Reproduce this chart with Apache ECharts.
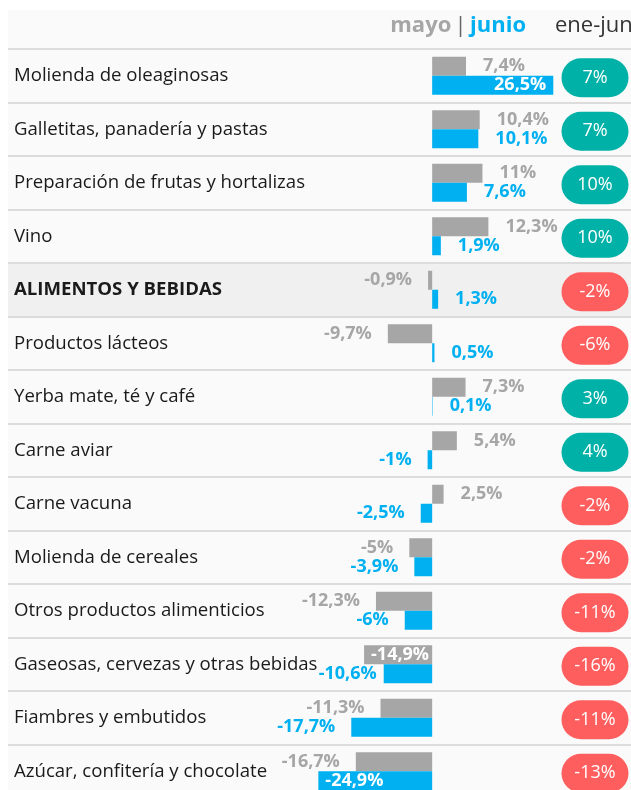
<!DOCTYPE html>
<html>
	<head>
		<meta charset="utf-8">
		<title></title>
		<script src="https://cdn.jsdelivr.net/npm/echarts@6/dist/echarts.min.js"></script>
		<style>
			html, body { margin: 0; padding: 0; background: #fff; overflow: hidden; }
		</style>
	</head>
	<body>
		<!-- el cuadro sigue un poco por debajo del borde de la ventana -->
		<div id="my" style="width: 631px;height:798px;"></div>

		<script>
			var categories = [
				'Molienda de oleaginosas',
				'Galletitas, panadería y pastas',
				'Preparación de frutas y hortalizas',
				'Vino',
				'ALIMENTOS Y BEBIDAS',
				'Productos lácteos',
				'Yerba mate, té y café',
				'Carne aviar',
				'Carne vacuna',
				'Molienda de cereales',
				'Otros productos alimenticios',
				'Gaseosas, cervezas y otras bebidas',
				'Fiambres y embutidos',
				'Azúcar, confitería y chocolate'
			];
			var mayo = [7.4, 10.4, 11, 12.3, -0.9, -9.7, 7.3, 5.4, 2.5, -5, -12.3, -14.9, -11.3, -16.7];
			var junio = [26.5, 10.1, 7.6, 1.9, 1.3, 0.5, 0.1, -1, -2.5, -3.9, -6, -10.6, -17.7, -24.9];
			var eneJun = [7, 7, 10, 10, -2, -6, 3, 4, -2, -2, -11, -16, -11, -13];

			// etiquetas que van dentro de la barra
			var dentroMayo = [11];
			var dentroJunio = [0, 13];
			// etiqueta de junio pegada a la barra (para no pisar el texto)
			var pegadaJunio = [11];

			var gris = '#a6a6a6';
			var azul = '#00b0f0';
			var fuente = '"Open Sans", sans-serif';

			function fmt(v) {
				return String(v).replace('.', ',') + '%';
			}

			function barData(values, color, dentro, pegada) {
				return values.map(function (v, i) {
					var adentro = dentro.indexOf(i) >= 0;
					var pos, dist;
					if (adentro) pos = v < 0 ? 'insideLeft' : 'insideRight';
					else pos = v < 0 ? 'left' : 'right';
					dist = adentro ? 7 : (v < 0 ? 16 : 17);
					if (pegada.indexOf(i) >= 0) dist = 7;
					return {
						value: v,
						label: {
							position: pos,
							distance: dist,
							color: adentro ? '#fff' : color
						}
					};
				});
			}

			var myChart = echarts.init(document.getElementById('my'));

			var bandas = categories.map(function (c) {
				return c === 'ALIMENTOS Y BEBIDAS' ? '#f0f0f0' : 'rgba(0,0,0,0)';
			});

			var option = {
				backgroundColor: '#fff',
				animation: false,
				graphic: [
					{
						type: 'rect',
						z: -10,
						shape: { x: 8, y: 10, width: 623, height: 800 },
						style: { fill: '#fafafa' }
					},
					{
						type: 'text',
						z: 10,
						style: {
							x: 526, y: 26,
							align: 'right', verticalAlign: 'middle',
							text: '{m|mayo} {s||} {j|junio}',
							rich: {
								m: { fontFamily: fuente, fontSize: 22, fontWeight: 'bold', fill: gris },
								s: { fontFamily: fuente, fontSize: 22, fill: '#666' },
								j: { fontFamily: fuente, fontSize: 22, fontWeight: 'bold', fill: azul }
							}
						}
					},
					{
						type: 'text',
						z: 10,
						style: {
							x: 555, y: 26,
							align: 'left', verticalAlign: 'middle',
							text: 'ene-jun',
							fontFamily: fuente, fontSize: 22, fill: '#333'
						}
					}
				],
				grid: {
					left: 8,
					right: 0,
					top: 49,
					bottom: 0
				},
				xAxis: {
					type: 'value',
					min: -92.8,
					max: 43.5,
					show: false
				},
				yAxis: {
					type: 'category',
					inverse: true,
					data: categories,
					axisLine: { show: false },
					axisTick: { show: false },
					splitLine: {
						show: true,
						lineStyle: { color: '#dcdcdc', width: 2 }
					},
					splitArea: {
						show: true,
						areaStyle: { color: bandas }
					},
					axisLabel: {
						inside: true,
						margin: 6,
						fontFamily: fuente,
						fontSize: 18.6,
						color: '#1a1a1a',
						formatter: function (v) {
							return v === 'ALIMENTOS Y BEBIDAS' ? '{b|' + v + '}' : v;
						},
						rich: {
							b: { fontFamily: fuente, fontSize: 18.6, fontWeight: 'bold', color: '#1a1a1a' }
						}
					}
				},
				series: [
					{
						name: 'mayo',
						type: 'bar',
						barWidth: 19,
						barGap: '0%',
						itemStyle: { color: gris },
						label: {
							show: true,
							fontFamily: fuente,
							fontSize: 18,
							fontWeight: 'bold',
							formatter: function (p) { return fmt(p.value); }
						},
						data: barData(mayo, gris, dentroMayo, [])
					},
					{
						name: 'junio',
						type: 'bar',
						barWidth: 19,
						barGap: '0%',
						itemStyle: { color: azul },
						label: {
							show: true,
							fontFamily: fuente,
							fontSize: 18,
							fontWeight: 'bold',
							formatter: function (p) { return fmt(p.value); }
						},
						data: barData(junio, azul, dentroJunio, pegadaJunio)
					},
					{
						name: 'ene-jun',
						type: 'custom',
						clip: false,
						encode: { x: 0, y: 1 },
						data: eneJun.map(function (v, i) { return [0, i, v]; }),
						renderItem: function (params, api) {
							var y = api.coord([0, api.value(1)])[1] + 2;
							var cs = params.coordSys;
							var cx = cs.x + cs.width - 36;
							var v = api.value(2);
							return {
								type: 'group',
								children: [
									{
										type: 'rect',
										shape: { x: cx - 33.5, y: y - 19.5, width: 67, height: 39, r: 19.5 },
										style: { fill: v < 0 ? '#ff5e5e' : '#00b1a7' }
									},
									{
										type: 'text',
										style: {
											x: cx, y: y,
											align: 'center', verticalAlign: 'middle',
											text: v + '%',
											fontFamily: fuente, fontSize: 18,
											fill: '#fff'
										}
									}
								]
							};
						}
					}
				]
			};

			myChart.setOption(option);
		</script>
	</body>
</html>
